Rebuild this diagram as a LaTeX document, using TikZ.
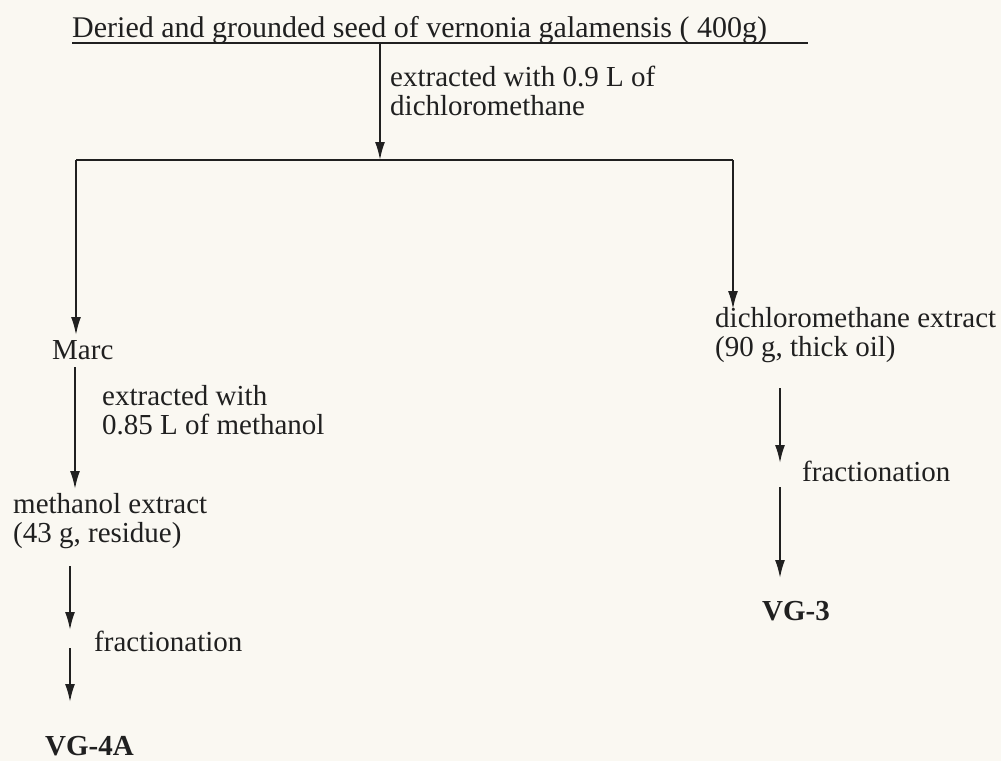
\documentclass[tikz,border=0pt]{standalone}
\usepackage{fontspec}
\setmainfont{Liberation Serif}
\usetikzlibrary{arrows.meta}
\definecolor{bg}{RGB}{250,248,242}
\definecolor{ink}{RGB}{32,32,32}
\newcommand\diagfont{\fontsize{29}{29}\selectfont\lineskiplimit=-50pt\relax}
\newcommand\titlefont{\fontsize{30}{30}\selectfont}
\begin{document}
\begin{tikzpicture}[x=1pt,y=-1pt,
  txt/.style={inner sep=0pt,text=ink,align=left,font=\diagfont},
  res/.style={txt,font=\diagfont\bfseries},
  conn/.style={draw=ink,line width=1.9pt},
  arr/.style={conn,-{Latex[length=18pt,width=10pt]}}]
\fill[bg] (0,0) rectangle (1001,761);
\useasboundingbox (0,0) rectangle (1001,761);

% title and its underline
\node[txt,font=\titlefont,anchor=base west] (title) at (72,37) {Deried and grounded seed of vernonia galamensis ( 400g)};
\coordinate (ul) at (72,43);
\coordinate (ur) at (808,43);
\coordinate (top) at (380,43);
\draw[conn] (ul) -- (ur);

% first extraction
\node[txt,anchor=north west] (lab1) at (390,66) {extracted with 0.9 L of\\dichloromethane};
\coordinate (j) at (380,160);
\coordinate (jl) at (76,160);
\coordinate (jr) at (733,160);
\draw[arr] (top) -- (j);
\draw[conn] (jl) -- (jr);

% left branch
\node[txt,anchor=base west] (marc) at (52,359) {Marc};
\draw[arr] (jl) -- (76,335);
\node[txt,anchor=north west] (lab2) at (102,385) {extracted with\\0.85 L of methanol};
\node[txt,anchor=north west] (meth) at (13,493) {methanol extract\\(43 g, residue)};
\coordinate (m1) at (75,367);
\coordinate (m2) at (75,489);
\draw[arr] (m1) -- (m2);
\node[txt,anchor=base west] (frL) at (94,651) {fractionation};
\coordinate (a1) at (70,566);
\coordinate (a2) at (70,630);
\coordinate (a3) at (70,648);
\coordinate (a4) at (70,702);
\draw[arr] (a1) -- (a2);
\draw[arr] (a3) -- (a4);
\node[res,anchor=base west] (vg4) at (45,755) {VG-4A};

% right branch
\node[txt,anchor=north west] (dcm) at (715,307) {dichloromethane extract\\(90 g, thick oil)};
\draw[arr] (jr) -- (733,309);
\node[txt,anchor=base west] (frR) at (802,481) {fractionation};
\coordinate (b1) at (780,388);
\coordinate (b2) at (780,463);
\coordinate (b3) at (780,487);
\coordinate (b4) at (780,578);
\draw[arr] (b1) -- (b2);
\draw[arr] (b3) -- (b4);
\node[res,anchor=base west] (vg3) at (762,620) {VG-3};
\end{tikzpicture}
\end{document}
